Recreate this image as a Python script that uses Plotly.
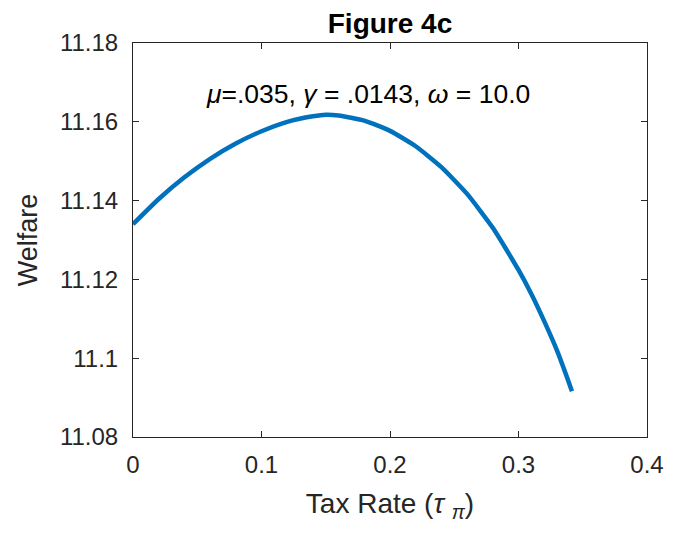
import plotly.graph_objects as go

tax_rate = [0.00, 0.02, 0.04, 0.06, 0.08, 0.10, 0.12, 0.14, 0.15, 0.16, 0.18,
            0.20, 0.22, 0.24, 0.26, 0.28, 0.30, 0.31, 0.32, 0.33, 0.34, 0.3416]
welfare = [11.1340, 11.1404, 11.1459, 11.1506, 11.1545, 11.1576, 11.1600, 11.1614,
           11.1618, 11.1616, 11.1603, 11.1577, 11.1538, 11.1485, 11.1417, 11.1331,
           11.1224, 11.1163, 11.1094, 11.1019, 11.0931, 11.0916]

y_tickvals = [11.08, 11.10, 11.12, 11.14, 11.16, 11.18]
y_ticktext = ["11.08", "11.1", "11.12", "11.14", "11.16", "11.18"]
x_tickvals = [0, 0.1, 0.2, 0.3, 0.4]
x_ticktext = ["0", "0.1", "0.2", "0.3", "0.4"]

FONT = "Liberation Sans, Arial, Helvetica, sans-serif"
AX = "#262626"

fig = go.Figure()
fig.add_trace(go.Scatter(
    x=tax_rate, y=welfare, mode="lines",
    line=dict(color="#0072BD", width=4.5, shape="spline", smoothing=0.5),
    showlegend=False, hoverinfo="skip",
))

axis_common = dict(
    showline=True, linecolor=AX, linewidth=1, mirror="ticks",
    ticks="inside", ticklen=6, tickcolor=AX, tickwidth=1,
    showgrid=False, zeroline=False,
    tickfont=dict(family=FONT, size=24, color=AX),
)

fig.update_xaxes(range=[0, 0.4], tickvals=x_tickvals, ticktext=x_ticktext,
                 ticklabelstandoff=6,
                 title=dict(text="Tax Rate (<i>τ</i> <sub><i>π</i></sub>)",
                            font=dict(family=FONT, size=28, color=AX), standoff=16),
                 **axis_common)
fig.update_yaxes(range=[11.08, 11.18], tickvals=y_tickvals, ticktext=y_ticktext,
                 ticklabelstandoff=9,
                 title=dict(text="Welfare", font=dict(family=FONT, size=27, color=AX), standoff=14),
                 **axis_common)

fig.add_annotation(
    x=0.183, y=11.1671, xref="x", yref="y", showarrow=False,
    text="<i>μ</i>=.035, <i>γ</i> = .0143, <i>ω</i> = 10.0",
    font=dict(family=FONT, size=26.5, color="#000000"),
)

fig.update_layout(
    width=671, height=526,
    margin=dict(l=125, r=32, t=35, b=97, autoexpand=False),
    paper_bgcolor="white", plot_bgcolor="white",
    title=dict(text="<b>Figure 4c</b>", x=(125 + 639) / 2 / 671, xanchor="center",
               y=1 - 15 / 526, yanchor="middle",
               font=dict(family=FONT, size=28, color="#000000")),
)

fig.write_html("out.html")
